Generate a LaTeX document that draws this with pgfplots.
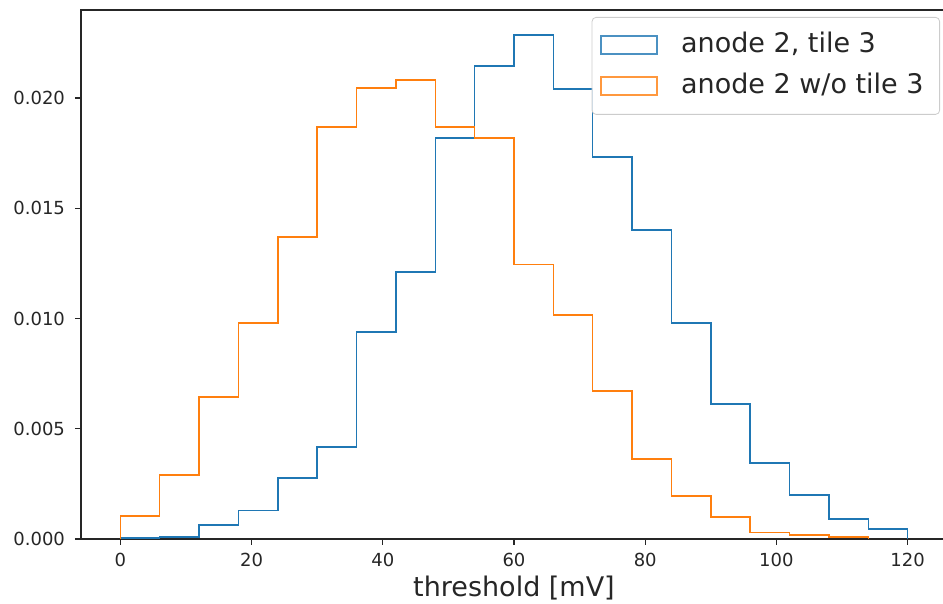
\documentclass[border=0pt]{standalone}
\usepackage{pgfplots}
\pgfplotsset{compat=1.18}
\usepackage{fontspec}
\setmainfont{DejaVu Sans}
\definecolor{tabblue}{HTML}{1F77B4}
\definecolor{taborange}{HTML}{FF7F0E}
\begin{document}
\begin{tikzpicture}
\begin{axis}[
  scale only axis, width=433pt, height=264.5pt,
  xmin=-6, xmax=126, ymin=0, ymax=0.02399,
  axis line style={black!85, line width=0.7pt},
  tick align=outside, major tick length=3pt, tick pos=left,
  every tick/.style={black!85, line width=0.7pt},
  xtick={0,20,...,120}, ytick={0,0.005,0.01,0.015,0.02},
  scaled y ticks=false,
  yticklabel style={/pgf/number format/fixed, /pgf/number format/fixed zerofill, /pgf/number format/precision=3},
  /pgf/number format/assume math mode=true,
  tick label style={font=\fontsize{9}{11}\selectfont, text=black!85},
  xticklabel style={anchor=base, yshift=-11pt},
  yticklabel style={anchor=east, xshift=-1.5pt},
  xlabel={threshold [mV]},
  xlabel style={font=\fontsize{13.5}{16}\selectfont, at={(rel axis cs:0.5,0)}, anchor=base, yshift=-29pt, text=black!85},
  legend style={at={(rel axis cs:1,1)}, anchor=north east, xshift=-3.5pt, yshift=-3.5pt,
    draw=black!20, rounded corners=2pt, fill=white, fill opacity=0.8, text opacity=1,
    font=\fontsize{13.5}{16}\selectfont, inner xsep=4pt, inner ysep=6pt, row sep=4.5pt,
    nodes={inner xsep=0pt, inner ysep=1.5pt, text height=10pt, text depth=3pt, text=black!85},
    /tikz/every odd column/.append style={column sep=11.5pt}},
  legend cell align=left,
  legend image code/.code={\draw[#1, sharp corners, line width=1pt, draw opacity=0.8] (0pt,-4.5pt) rectangle (28pt,4.5pt);},
]
\addplot[const plot, tabblue, line width=0.75pt] coordinates {
(0,0) (0,0.00005) (6,0.0001) (12,0.00063) (18,0.0013) (24,0.00277) (30,0.00417)
(36,0.00939) (42,0.0121) (48,0.01819) (54,0.02145) (60,0.02286) (66,0.0204)
(72,0.01732) (78,0.01401) (84,0.0098) (90,0.00612) (96,0.00345) (102,0.002)
(108,0.0009) (114,0.00045) (120,0.00045) (120,0)};
\addlegendentry{anode 2, tile 3}
\addplot[const plot, taborange, line width=0.75pt] coordinates {
(0,0) (0,0.00104) (6,0.0029) (12,0.00644) (18,0.0098) (24,0.0137) (30,0.01868)
(36,0.02045) (42,0.02082) (48,0.01868) (54,0.01819) (60,0.01245) (66,0.01016)
(72,0.00671) (78,0.00363) (84,0.00195) (90,0.001) (96,0.00029) (102,0.00018)
(108,0.0001) (114,0.0001) (114,0)};
\addlegendentry{anode 2 w/o tile 3\rule{4pt}{0pt}}
\end{axis}
\pgfresetboundingbox
\path[use as bounding box] (-40.5pt,-32.5pt) rectangle (431pt,269.5pt);
\end{tikzpicture}
\end{document}
